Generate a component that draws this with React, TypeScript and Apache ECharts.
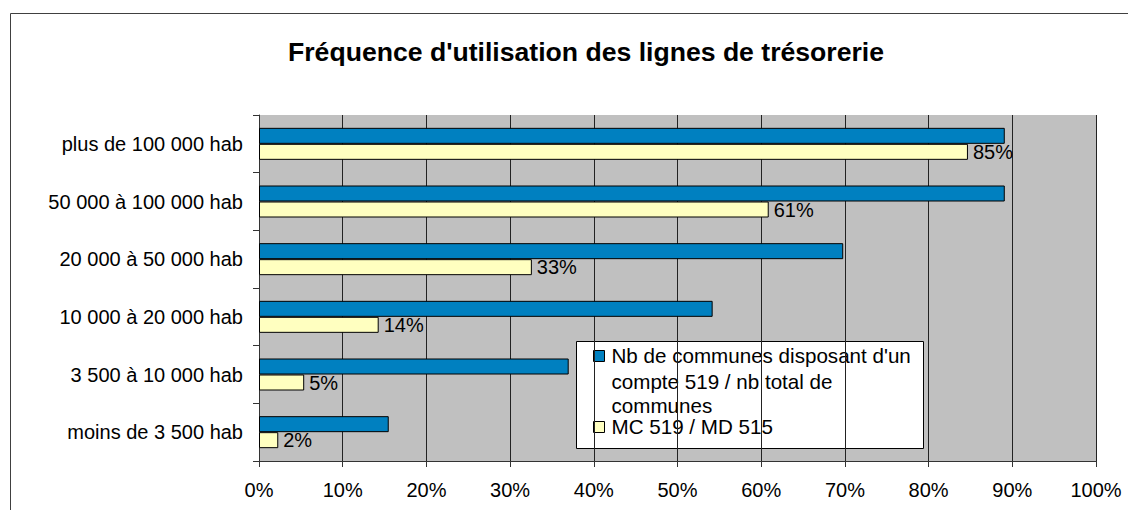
import React, { useEffect, useRef } from "react";
import * as echarts from "echarts";

const categories = [
  "plus de 100 000 hab",
  "50 000 à 100 000 hab",
  "20 000 à 50 000 hab",
  "10 000 à 20 000 hab",
  "3 500 à 10 000 hab",
  "moins de 3 500 hab",
];
const seriesNames = ["Nb de communes disposant d'un compte 519 / nb total de communes", "MC 519 / MD 515"];
const legendLines = ["Nb de communes disposant d'un", "compte 519 / nb total de", "communes"];
const blueValues = [89.1, 89.1, 69.8, 54.2, 37.0, 15.5];
const yellowValues = [84.7, 60.9, 32.6, 14.3, 5.4, 2.3];
const xTicks = [0, 10, 20, 30, 40, 50, 60, 70, 80, 90, 100];
const titleText = "Fréquence d'utilisation des lignes de trésorerie";

const FONT = "'Liberation Sans', Arial, sans-serif";
const FS = 20;
const LFS = 20.6;

export default function App() {
  const ref = useRef<HTMLDivElement>(null);
  useEffect(() => {
    document.body.style.margin = "0";
    const chart = echarts.init(ref.current!, null, { renderer: "svg" });
    chart.setOption({
      animation: false,
      backgroundColor: "#fff",
      textStyle: { fontFamily: FONT },
      title: {
        text: titleText,
        left: 581,
        top: 33,
        textAlign: "center",
        textStyle: { fontFamily: FONT, fontSize: 26.6, fontWeight: "bold", color: "#000" },
      },
      grid: { left: 259, top: 115, right: 32, bottom: 49, show: true, backgroundColor: "#C0C0C0", borderWidth: 0 },
      xAxis: {
        type: "value",
        min: xTicks[0],
        max: xTicks[xTicks.length - 1],
        interval: 10,
        axisLine: { show: true, lineStyle: { color: "#333", width: 1 } },
        axisTick: { show: true, length: 6, lineStyle: { color: "#333" } },
        axisLabel: { formatter: (v: number) => `${v}%`, color: "#000", fontSize: FS, fontFamily: FONT, margin: 19 },
        splitLine: { show: true, lineStyle: { color: "#222", width: 1 } },
      },
      yAxis: {
        type: "category",
        data: categories,
        inverse: true,
        axisLine: { show: true, lineStyle: { color: "#333", width: 1 } },
        axisTick: { show: true, length: 6, lineStyle: { color: "#333" } },
        axisLabel: { color: "#000", fontSize: FS, fontFamily: FONT, margin: 16 },
        splitLine: { show: false },
      },
      series: [
        {
          name: seriesNames[0],
          type: "bar",
          data: blueValues,
          barWidth: 16,
          barGap: "0%",
          itemStyle: { color: "#0080C0", borderColor: "#000", borderWidth: 1 },
        },
        {
          name: seriesNames[1],
          type: "bar",
          data: yellowValues,
          barWidth: 16,
          barGap: "0%",
          itemStyle: { color: "#FFFFC0", borderColor: "#000", borderWidth: 1 },
          label: {
            show: true,
            position: "right",
            distance: 5,
            formatter: (p: any) => `${Math.round(p.value)}%`,
            color: "#000",
            fontSize: FS,
            fontFamily: FONT,
          },
        },
      ],
      graphic: [
        {
          type: "rect",
          shape: { x: 10.5, y: 13.5, width: 1140, height: 520 },
          style: { fill: "none", stroke: "#404040", lineWidth: 1 },
          silent: true,
        },
        {
          type: "group",
          left: 576,
          top: 341,
          children: [
            {
              type: "rect",
              shape: { x: 0.5, y: 0.5, width: 347, height: 107 },
              style: { fill: "#fff", stroke: "#000", lineWidth: 1 },
            },
            {
              type: "rect",
              shape: { x: 17.5, y: 9.5, width: 11, height: 11 },
              style: { fill: "#0080C0", stroke: "#000", lineWidth: 1 },
            },
            ...legendLines.map((t, i) => ({
              type: "text",
              x: 35.5,
              y: [14, 40, 64.5][i],
              style: {
                text: t,
                font: `${LFS}px ${FONT}`,
                fill: "#000",
                verticalAlign: "middle",
                lineHeight: 17,
              },
            })),
            {
              type: "rect",
              shape: { x: 17.5, y: 80.5, width: 11, height: 11 },
              style: { fill: "#FFFFC0", stroke: "#000", lineWidth: 1 },
            },
            {
              type: "text",
              x: 35.5,
              y: 85.5,
              style: {
                text: seriesNames[1],
                font: `${LFS}px ${FONT}`,
                fill: "#000",
                verticalAlign: "middle",
                lineHeight: 17,
              },
            },
          ],
        },
      ],
    });
    return () => chart.dispose();
  }, []);
  return <div ref={ref} style={{ width: 1128, height: 510 }} />;
}
